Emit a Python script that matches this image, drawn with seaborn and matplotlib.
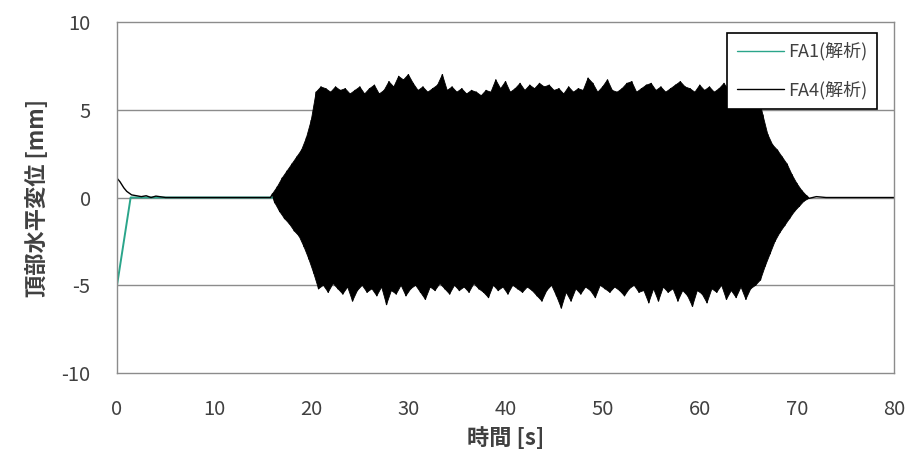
import numpy as np
import pandas as pd
import matplotlib
matplotlib.use("Agg")
import matplotlib.pyplot as plt
import seaborn as sns

# ---------------- data ----------------
# FA1 (analysis): initial transient only visible part
fa1_t = [0.0, 1.4, 16.0]
fa1_v = [-5.0, 0.0, 0.0]

# FA4 (analysis): free-vibration part before excitation
fa4_pre_t = [0.0, 0.3, 0.7, 1.0, 1.5, 2.0, 2.5, 3.0, 3.5, 4.0, 5.0, 15.8]
fa4_pre_v = [1.1, 0.9, 0.55, 0.35, 0.15, 0.1, 0.05, 0.1, 0.0, 0.08, 0.0, 0.0]

# FA4 positive peaks, every 0.5 s from 16.0 s to 71.0 s
upper_t = list(np.round(np.arange(16.0, 71.01, 0.5), 2))
upper_v = [0.2, 0.6, 1.1, 1.5, 1.9, 2.3, 2.7, 3.4, 4.4, 6.0,
           6.3, 6.2, 6.0, 6.3, 6.1, 6.2, 5.9, 6.1, 6.3, 5.9,
           6.2, 6.4, 5.9, 6.1, 6.6, 6.3, 6.9, 6.7, 7.0,
           6.5, 6.1, 6.3, 6.0, 6.2, 6.4, 7.0, 6.1, 6.3, 6.0,
           6.2, 5.9, 6.1, 6.0, 5.8, 6.1, 6.0, 6.7, 6.2, 6.6,
           6.0, 6.2, 6.5, 6.1, 6.4, 6.2, 6.5, 6.3,
           6.4, 6.1, 6.2, 5.9, 6.3, 6.0, 6.2, 6.1, 6.8, 6.5,
           6.0, 6.3, 6.7, 6.1, 6.0, 6.2, 6.5, 6.6, 6.0, 6.2,
           6.4, 6.5, 6.1, 6.3, 6.0, 6.2, 6.4, 6.6, 6.3,
           6.2, 6.0, 6.4, 6.1, 6.3, 6.0, 6.2, 6.5, 6.1, 6.3,
           6.0, 6.2, 6.1, 6.0, 5.9, 4.7, 3.6, 3.0, 2.7, 2.3,
           1.9, 1.3, 0.8, 0.4, 0.1]

# FA4 negative peaks, every 0.5 s from 16.25 s to 71.25 s
lower_t = list(np.round(np.arange(16.25, 71.26, 0.5), 2))
lower_v = [-0.3, -0.8, -1.2, -1.5, -1.9, -2.2, -2.8, -3.5, -4.3, -5.2,
           -5.0, -5.4, -4.9, -5.2, -5.5, -5.1, -5.9, -5.3, -5.0, -5.4,
           -5.2, -5.6, -5.1, -6.1, -5.3, -5.5, -5.0, -5.6,
           -5.2, -5.0, -5.4, -5.8, -5.1, -5.3, -4.9, -5.2, -5.5, -5.0,
           -5.3, -5.1, -5.4, -4.9, -5.2, -5.4, -5.7, -5.0, -5.3, -5.1,
           -5.5, -5.0, -5.2, -5.4, -5.1, -5.3, -5.6, -5.9,
           -5.3, -5.0, -5.6, -6.3, -5.4, -5.9, -5.2, -5.5, -5.1, -5.3,
           -5.7, -5.0, -5.2, -5.4, -5.1, -5.3, -5.6, -5.2, -5.0, -5.4,
           -5.3, -6.0, -5.2, -5.9, -5.1, -5.4, -5.2, -5.9, -5.3,
           -5.6, -6.2, -5.3, -5.5, -6.0, -5.2, -5.4, -5.0, -5.8, -5.3,
           -5.7, -5.1, -5.8, -5.2, -5.0, -4.7, -3.9, -3.2, -2.5, -2.0,
           -1.6, -1.2, -0.8, -0.5, -0.2, -0.05]

# FA4 after excitation
fa4_post_t = [72.0, 73.0, 80.0]
fa4_post_v = [0.05, 0.0, 0.0]

x_ticks = [0, 10, 20, 30, 40, 50, 60, 70, 80]
y_ticks = [-10, -5, 0, 5, 10]
labels = ["FA1(解析)", "FA4(解析)"]

# ---------------- build table ----------------
osc_t, osc_v = [], []
for tu, vu, tl, vl in zip(upper_t, upper_v, lower_t, lower_v):
    osc_t += [tu, tl]
    osc_v += [vu, vl]

fa4_t = fa4_pre_t + osc_t + fa4_post_t
fa4_v = fa4_pre_v + osc_v + fa4_post_v

df = pd.DataFrame({
    "t": list(fa1_t) + list(fa4_t),
    "v": list(fa1_v) + list(fa4_v),
    "s": [labels[0]] * len(fa1_t) + [labels[1]] * len(fa4_t),
})

# ---------------- plot ----------------
sns.set_theme(style="white")
plt.rcParams["font.family"] = ["Noto Sans CJK JP", "DejaVu Sans"]

fig = plt.figure(figsize=(9.23, 4.62), dpi=100)
ax = fig.add_axes([0.1268, 0.1926, 0.8418, 0.7598])

sns.lineplot(data=df, x="t", y="v", hue="s", sort=False, estimator=None,
             palette={labels[0]: "#2aa58a", labels[1]: "#000000"},
             linewidth=1.0, ax=ax, legend=True)
ax.lines[0].set_linewidth(1.4)

# dense oscillation body: area spanned by the FA4 peaks
ax.fill(upper_t + lower_t[::-1], upper_v + lower_v[::-1],
        color="black", linewidth=0.6, zorder=1.5)

ax.set_xlim(0, 80)
ax.set_ylim(-10, 10)
ax.set_xticks(x_ticks)
ax.set_yticks(y_ticks)
ax.set_xticklabels([str(v) for v in x_ticks])
ax.set_yticklabels([str(v) for v in y_ticks])
for yv in [-5, 0, 5]:
    ax.axhline(yv, color="#8c8c8c", linewidth=1.0, zorder=0)
for sp in ax.spines.values():
    sp.set_color("#8c8c8c")
    sp.set_linewidth(1.0)
ax.tick_params(axis="both", length=0, labelsize=14.5, colors="#404040", pad=19)

ax.set_xlabel("時間 [s]", fontsize=16, color="#404040", fontweight="bold", labelpad=5)
ax.set_ylabel("頂部水平変位 [mm]", fontsize=16, color="#404040", fontweight="bold", labelpad=9)

leg = ax.legend(loc="upper right", bbox_to_anchor=(0.978, 0.97), fontsize=13,
                frameon=True, fancybox=False, framealpha=1.0, edgecolor="black",
                labelspacing=1.1, handlelength=2.6, handletextpad=0.2,
                borderpad=0.55, borderaxespad=0.0, labelcolor="#404040")
leg.get_frame().set_linewidth(1.2)
leg.set_zorder(10)

fig.savefig("out.png", dpi=100)
